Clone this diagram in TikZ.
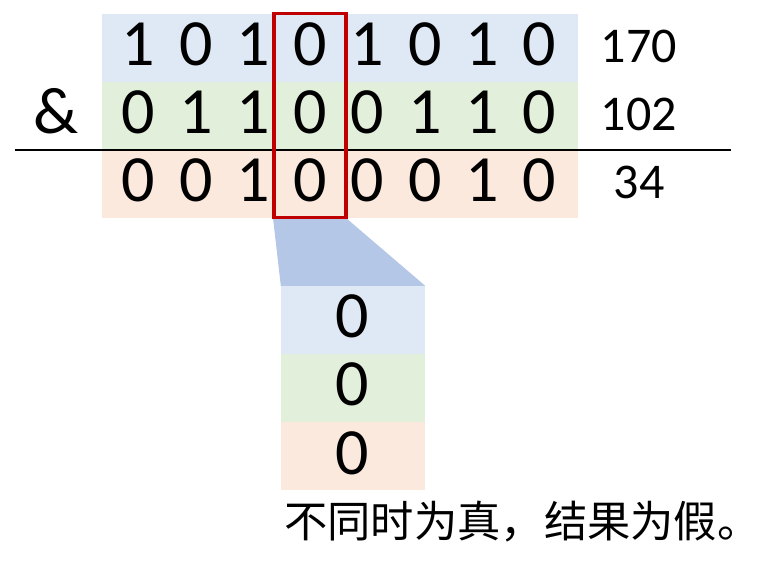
\documentclass[tikz,border=0pt]{standalone}
\usepackage{fontspec}
\setmainfont{Carlito}
\newfontfamily\cjk{Noto Sans CJK SC}
\definecolor{rowblue}{HTML}{DEE9F5}
\definecolor{rowgreen}{HTML}{E2EFDA}
\definecolor{roworange}{HTML}{FCE9DE}
\definecolor{trap}{HTML}{B4C7E7}
\definecolor{boxred}{HTML}{C00000}
\tikzset{
  rowbox/.style={draw=none,inner sep=0pt,minimum width=476pt,minimum height=68pt},
  cellbox/.style={draw=none,inner sep=0pt,minimum width=144pt,minimum height=68pt},
  digit/.style={inner sep=0pt,anchor=base,font=\fontsize{66}{66}\selectfont},
  sidenum/.style={inner sep=0pt,anchor=base,font=\fontsize{50}{50}\selectfont},
}
\begin{document}
\begin{tikzpicture}[x=1pt,y=-1pt]
\useasboundingbox (0,0) rectangle (768,562);
% rows
\node[rowbox,fill=rowblue] (r1) at (340,48) {};
\node[rowbox,fill=rowgreen] (r2) at (340,116) {};
\node[rowbox,fill=roworange] (r3) at (340,184) {};
% rule
\coordinate (la) at (15,150);
\coordinate (lb) at (731,150);
\draw[line width=2.2pt] (la) -- (lb);
% digits
\foreach \d [count=\i from 0] in {1,0,1,0,1,0,1,0}
  \node[digit] (a\i) at (138.5+57.3*\i,65) {\d};
\foreach \d [count=\i from 0] in {0,1,1,0,0,1,1,0}
  \node[digit] (b\i) at (138.5+57.3*\i,133) {\d};
\foreach \d [count=\i from 0] in {0,0,1,0,0,0,1,0}
  \node[digit] (c\i) at (138.5+57.3*\i,201) {\d};
\node[digit] (amp) at (56,133) {\&};
\node[sidenum] (n1) at (639,62) {170};
\node[sidenum] (n2) at (639,130) {102};
\node[sidenum] (n3) at (639,198) {34};
% bottom column
\node[cellbox,fill=rowblue] (s1) at (353,320) {};
\node[cellbox,fill=rowgreen] (s2) at (353,388) {};
\node[cellbox,fill=roworange] (s3) at (353,456) {};
% trapezoid
\coordinate (ta) at (273,218);
\coordinate (tb) at (346,218);
\fill[trap] (ta) -- (tb) -- (s1.north east) -- (s1.north west) -- cycle;
% red box
\node[draw=boxred,line width=3.2pt,inner sep=0pt,minimum width=72pt,minimum height=204pt] (red) at (310,115.5) {};
\node[digit] (d1) at (352.7,337) {0};
\node[digit] (d2) at (352.7,405) {0};
\node[digit] (d3) at (352.7,474) {0};
\node[inner sep=0pt,anchor=base west,font=\cjk\fontsize{43.3}{43.3}\selectfont] (note) at (284,537) {不同时为真，结果为假。};
\end{tikzpicture}
\end{document}
